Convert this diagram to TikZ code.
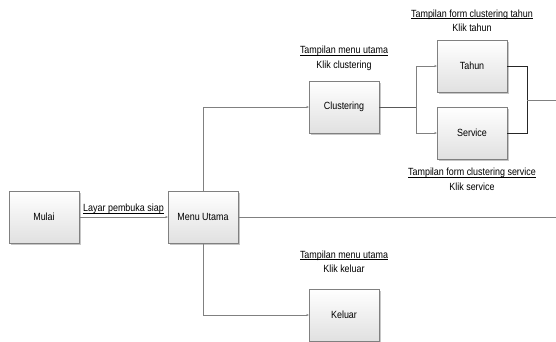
\documentclass[tikz,border=0pt]{standalone}
\usepackage{fontspec}
\setmainfont{Liberation Sans}[FakeStretch=0.86]
\usepackage{tikz}
\usetikzlibrary{positioning}
\usetikzlibrary{calc,shadows,arrows.meta}

\newsavebox\undlbox
\newcommand{\undl}[1]{\sbox\undlbox{#1}\rlap{\rule[-1.4pt]{\wd\undlbox}{0.5pt}}\usebox\undlbox}

\begin{document}
\begin{tikzpicture}[x=1pt, y=-1pt,
  font=\fontsize{10.4}{14.5}\selectfont,
  Bnode/.style={rectangle, draw=black!50, top color=white, bottom color=black!12,
    minimum width=70pt, minimum height=52pt, inner sep=0pt,
    drop shadow={shadow xshift=1.5pt, shadow yshift=-1.5pt, opacity=.45}},
  Lnode/.style={align=center, inner sep=1pt},
  arr/.style={draw=black!50, -{Stealth[length=2.5pt, width=2.2pt]}},
  dline/.style={draw=black!85}
]
\useasboundingbox (0,0) rectangle (556,341);
%Nodes
\node[Bnode] (Mulai) at (44,217) {Mulai};
\node[Bnode] (Menu) at (203,217) {Menu Utama};
\node[Bnode] (Clus) at (344,107) {Clustering};
\node[Bnode] (Tahun) at (472,66) {Tahun};
\node[Bnode] (Serv) at (472,133) {Service};
\node[Bnode] (Kel) at (344,315) {Keluar};

\node[Lnode] (LClus) [above=9pt of Clus] {\undl{Tampilan menu utama}\\Klik clustering};
\node[Lnode] (LTahun) [above=7pt of Tahun] {\undl{Tampilan form clustering tahun}\\Klik tahun};
\node[Lnode] (LServ) [below=8pt of Serv] {\undl{Tampilan form clustering service}\\Klik service};
\node[Lnode] (LKel) [above=15pt of Kel] {\undl{Tampilan menu utama}\\Klik keluar};

\coordinate (Split) at (416,107);
\coordinate (Join) at (527,100);
\coordinate (EndT) at (556,100);
\coordinate (EndM) at (556,217);

%Lines
\draw[arr] (Mulai.east) -- node[above=2pt, inner sep=1pt] {\undl{Layar pembuka siap}} (Menu.west);
\draw[arr] (Menu.north) |- (Clus.west);
\draw[arr] (Menu.south) |- (Kel.west);
\draw[draw=black!50] (Menu.east) -- (EndM);

\draw[draw=black!65] (Clus.east) -- (Split);
\draw[arr] (Split) |- (Tahun.west);
\draw[arr] (Split) |- (Serv.west);

\draw[dline] (Tahun.east) -| (Join);
\draw[dline] (Serv.east) -| (Join);
\draw[draw=black!50] (Join) -- (EndT);
\end{tikzpicture}
\end{document}
